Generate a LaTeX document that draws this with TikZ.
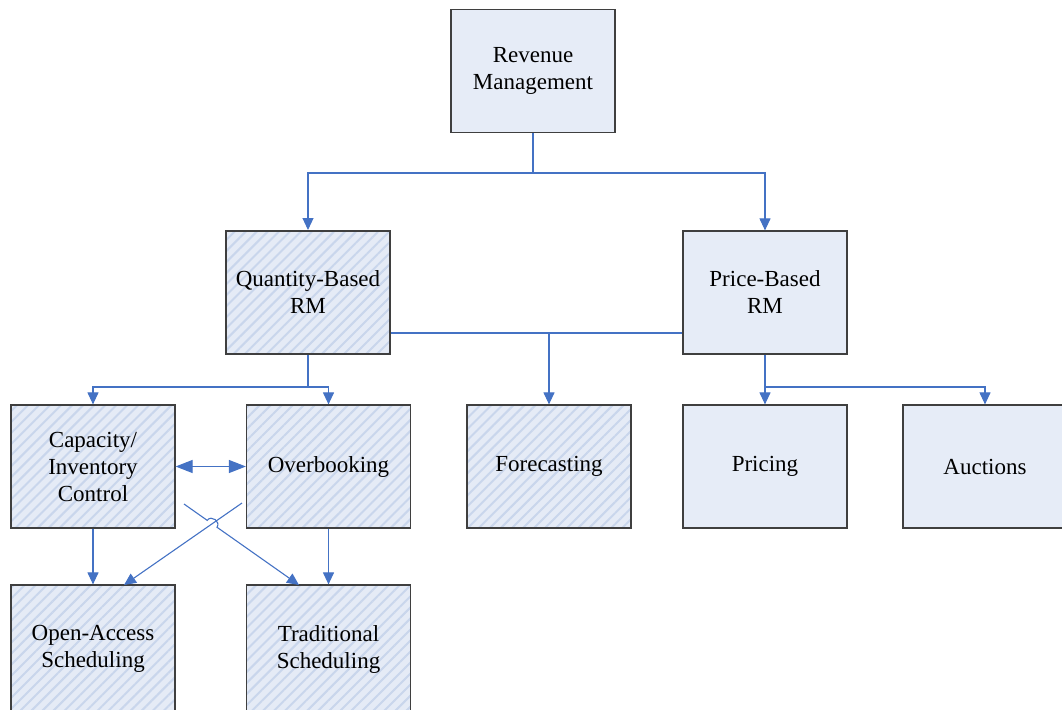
\documentclass[tikz,border=0pt]{standalone}
\usepackage{fontspec}
\setmainfont{Liberation Serif}
\usetikzlibrary{arrows.meta,calc,patterns.meta}
\definecolor{boxfill}{HTML}{E6ECF7}
\definecolor{hatchfill}{HTML}{E5EBF6}
\definecolor{stripe}{HTML}{C9D6EC}
\definecolor{boxline}{HTML}{3F3F3F}
\definecolor{linkblue}{HTML}{4472C4}
\tikzset{
  plainbox/.style={draw=boxline, line width=1.2pt, fill=boxfill,
                   minimum width=164pt, minimum height=123pt, inner sep=0pt,
                   align=center, text=black, font=\fontsize{23}{27}\selectfont},
  hatchbox/.style={plainbox, fill=none, preaction={fill=hatchfill},
                   pattern={Lines[angle=45,distance=7.8pt,line width=2pt]},
                   pattern color=stripe},
  arr/.style={-{Triangle[length=12pt,width=11pt]}, line width=1.1pt, color=linkblue},
  dblarr/.style={{Triangle[length=17pt,width=13pt]}-{Triangle[length=17pt,width=13pt]},
                 line width=1.1pt, color=linkblue},
  link/.style={line width=1.1pt, color=linkblue}}

\begin{document}
\begin{tikzpicture}[x=1pt,y=1pt]
  \clip (0,0) rectangle (1062,-709);
  % boxes
  \node[plainbox] (rm)  at (533,-71)     {Revenue\\Management};
  \node[hatchbox] (qb)  at (308,-292.5)  {Quantity-Based\\RM};
  \node[plainbox] (pb)  at (765,-292.5)  {Price-Based\\RM};
  \node[hatchbox] (cap) at (93,-466.5)   {Capacity/\\Inventory\\Control};
  \node[hatchbox] (ovb) at (328.5,-466.5) {Overbooking};
  \node[hatchbox] (fc)  at (549,-466.5)  {Forecasting};
  \node[plainbox] (pr)  at (765,-466.5)  {Pricing};
  \node[plainbox] (auc) at (985,-466.5)  {Auctions};
  \node[hatchbox, minimum height=128pt] (oas) at (93,-649)    {Open-Access\\Scheduling};
  \node[hatchbox, minimum height=128pt] (trs) at (328.5,-649) {Traditional\\Scheduling};

  % junctions
  \coordinate (rmj) at (533,-173);
  \coordinate (qbj) at (308,-387);
  \coordinate (pbj) at (765,-387);
  \coordinate (fcj) at (549,-333);

  \draw[arr] (rm) -- (rmj) -| (qb);
  \draw[arr] (rmj) -| (pb);
  \draw[arr] (qb) -- (qbj) -| (cap);
  \draw[arr] (qbj) -| (ovb);
  \draw[link] (qb.east |- fcj) -- (pb.west |- fcj);
  \draw[arr] (fcj) -- (fc);
  \draw[arr] (pb) -- (pr);
  \draw[arr] (pbj) -| (auc);
  \draw[dblarr] (cap) -- (ovb);
  \draw[arr] (cap) -- (oas);
  \draw[arr] (ovb) -- (trs);

  % crossing links, one hops over the other
  \coordinate (xa1) at (184,-504);
  \coordinate (xa2) at (299,-585);
  \coordinate (xb1) at (242,-503);
  \coordinate (xb2) at (124,-585);
  \coordinate (hop) at (intersection of xa1--xa2 and xb1--xb2);
  \coordinate (h1) at ($(hop)!6pt!(xa1)$);
  \coordinate (h2) at ($(hop)!6pt!(xa2)$);
  \draw[arr] (xb1) -- (xb2);
  \draw[arr] (xa1) -- (h1) .. controls +(4,5.7) and +(4,5.7) .. (h2) -- (xa2);
\end{tikzpicture}
\end{document}
